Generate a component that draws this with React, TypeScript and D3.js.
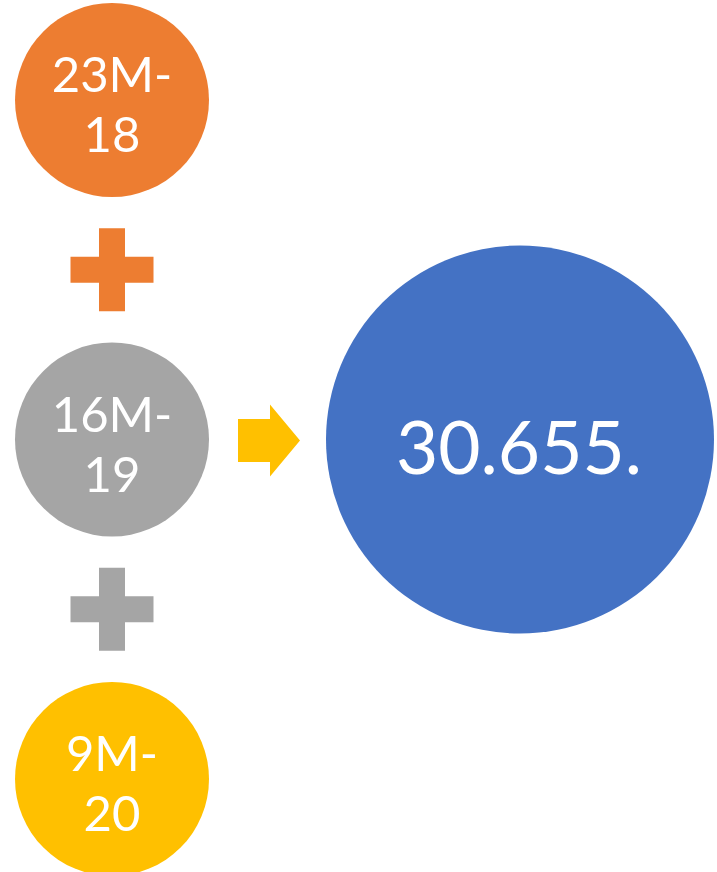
import { useMemo } from "react"
import * as d3 from "d3"

// data
const stages = ["23M-18", "16M-19", "9M-20"]
const stageColors = ["#ED7D31", "#A5A5A5", "#FFC000"]
const operators = ["+", "+"]
const operatorColors = ["#ED7D31", "#A5A5A5"]
const resultLabel = "30.655."
const resultColor = "#4472C4"
const arrowColor = "#FFC000"

const W = 717
const H = 872
const FONT = "Lato, 'Open Sans', sans-serif"

function splitLabel(label: string) {
  // "23M-18" -> ["23M-", "18"]
  const i = label.indexOf("-")
  return [label.slice(0, i + 1), label.slice(i + 1)]
}

function plusPoints(cx: number, cy: number, size: number, arm: number) {
  const s = size / 2
  const a = arm / 2
  return [
    [cx - a, cy - s], [cx + a, cy - s], [cx + a, cy - a], [cx + s, cy - a],
    [cx + s, cy + a], [cx + a, cy + a], [cx + a, cy + s], [cx - a, cy + s],
    [cx - a, cy + a], [cx - s, cy + a], [cx - s, cy - a], [cx - a, cy - a],
  ]
    .map((p) => p.join(","))
    .join(" ")
}

export default function App() {
  const yScale = useMemo(
    () => d3.scalePoint<string>().domain(stages).range([100, 779]),
    [],
  )
  const leftX = 112
  const r = 97
  const bigCx = 520
  const bigCy = yScale(stages[1]) as number
  const bigR = 194

  const arrow = useMemo(() => {
    const p = d3.path()
    const cy = bigCy + 1
    p.moveTo(238, cy - 21.5)
    p.lineTo(270, cy - 21.5)
    p.lineTo(270, cy - 36)
    p.lineTo(300, cy)
    p.lineTo(270, cy + 36)
    p.lineTo(270, cy + 21.5)
    p.lineTo(238, cy + 21.5)
    p.closePath()
    return p.toString()
  }, [bigCy])

  return (
    <svg
      width={W}
      height={H}
      style={{ position: "absolute", left: 0, top: 0, background: "#fff" }}
      fontFamily={FONT}
    >
      {stages.map((s, i) => {
        const cy = yScale(s) as number
        const [l1, l2] = splitLabel(s)
        return (
          <g key={s}>
            <circle cx={leftX} cy={cy} r={r} fill={stageColors[i]} />
            <text textAnchor="middle" fill="#fff" fontSize={49}>
              <tspan x={leftX} y={cy - 8}>{l1}</tspan>
              <tspan x={leftX} y={cy + 52}>{l2}</tspan>
            </text>
          </g>
        )
      })}
      {operators.map((op, i) => {
        const y0 = yScale(stages[i]) as number
        const y1 = yScale(stages[i + 1]) as number
        return (
          <polygon
            key={i}
            points={plusPoints(leftX, (y0 + y1) / 2, 83, 26)}
            fill={operatorColors[i]}
            aria-label={op}
          />
        )
      })}
      <path d={arrow} fill={arrowColor} />
      <circle cx={bigCx} cy={bigCy} r={bigR} fill={resultColor} />
      <text x={bigCx - 1} y={bigCy + 34} textAnchor="middle" fill="#fff" fontSize={73}>
        {resultLabel}
      </text>
    </svg>
  )
}
